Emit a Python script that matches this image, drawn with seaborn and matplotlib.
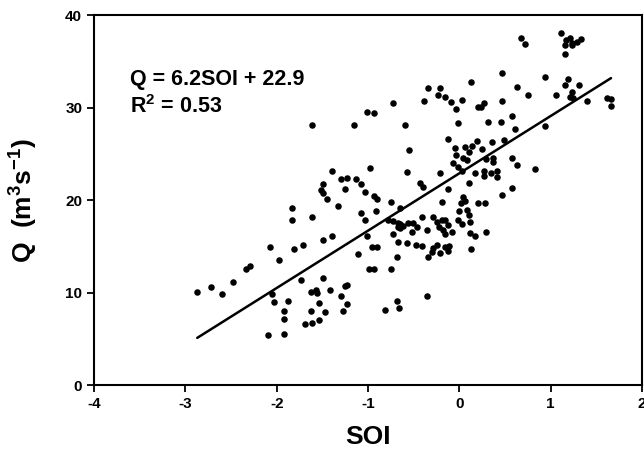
import numpy as np
import pandas as pd
import matplotlib
matplotlib.use("Agg")
import matplotlib.pyplot as plt
import seaborn as sns

# SOI vs discharge
soi = [
    -2.87, -2.72, -2.60, -2.48, -2.34, -2.29, -2.07, -1.97, -1.83, -1.83,
    -1.81, -2.05, -2.03, -1.88, -1.92, -1.92, -2.09, -1.92, -0.73, -1.01,
    -0.94, -1.61, -1.15, -1.39, -0.98, -1.30, -1.23, -1.13, -1.49, -1.51,
    -1.49, -1.45, -1.25, -1.08, -1.03, -0.94, -0.90, -1.33, -0.75, -1.61,
    -1.08, -1.03, -0.91, -0.78, -0.73, -0.67, -0.67, -1.71, -1.49, -1.39,
    -1.01, -0.96, -0.90, -1.11, -0.73, -0.67, -0.68, -0.99, -0.93, -0.75,
    -1.73, -1.49, -1.63, -1.57, -1.56, -1.42, -1.25, -1.23, -1.30, -1.54,
    -1.23, -1.63, -1.47, -1.27, -1.69, -1.61, -1.54, -0.81, -0.68, -0.66,
    0.13, -0.34, -0.21, -0.23, -0.16, -0.09, -0.39, 0.03, -0.04, 0.20,
    -0.01, -0.59, -0.13, 0.19, -0.05, 0.06, 0.14, 0.10, -0.04, 0.04,
    -0.07, -0.01, 0.03, 0.08, -0.55, -0.57, -0.21, -0.43, -0.40, 0.11,
    0.17, -0.13, -0.19, 0.04, 0.02, 0.06, 0.20, -0.65, 0.00, 0.08,
    0.10, 0.12, 0.03, -0.01, -0.41, -0.65, -0.62, -0.56, -0.51, -0.46,
    -0.52, -0.65, -0.29, -0.24, -0.19, -0.16, -0.22, -0.18, -0.13, -0.08,
    -0.16, -0.35, 0.12, 0.17, -0.57, -0.47, -0.41, -0.24, -0.29, -0.30,
    -0.16, -0.11, -0.21, -0.13, -0.34, 0.13, -0.36, 0.47, 0.94, 0.63,
    0.75, 1.06, 0.47, 0.27, 0.24, 0.58, 0.31, 0.46, 0.94, 0.61,
    0.25, 0.36, 0.49, 0.29, 0.37, 0.37, 0.58, 0.63, 0.83, 0.27,
    0.27, 0.35, 0.41, 0.41, 0.58, 0.47, 0.28, 0.29, 1.11, 1.17,
    1.21, 1.23, 1.29, 1.16, 1.23, 1.33, 1.16, 1.19, 1.16, 1.31,
    1.23, 1.21, 1.24, 1.40, 1.62, 1.66, 1.66, 0.67, 0.72,
]
q = [
    10.1, 10.6, 9.8, 11.2, 12.6, 12.9, 14.9, 13.5, 19.1, 17.8,
    14.7, 9.9, 9.0, 9.1, 8.0, 7.1, 5.4, 5.5, 30.5, 29.5,
    29.4, 28.1, 28.1, 23.1, 23.5, 22.3, 22.4, 22.3, 21.7, 21.1,
    20.8, 20.1, 21.2, 21.7, 20.9, 20.4, 20.1, 19.4, 19.8, 18.2,
    18.6, 17.9, 18.8, 17.9, 17.7, 17.5, 17.1, 15.1, 15.7, 16.1,
    16.1, 14.9, 14.9, 14.2, 16.3, 15.5, 13.8, 12.5, 12.5, 12.6,
    11.4, 11.6, 10.1, 10.3, 10.0, 10.3, 10.7, 10.8, 9.6, 8.9,
    8.8, 8.0, 7.9, 8.0, 6.6, 6.7, 7.0, 8.1, 9.1, 8.3,
    32.8, 32.1, 32.1, 31.4, 31.1, 30.6, 30.7, 30.8, 29.8, 30.1,
    28.3, 28.1, 26.6, 26.4, 25.6, 25.7, 25.9, 25.2, 24.9, 24.6,
    24.0, 23.6, 23.2, 24.3, 25.4, 23.0, 22.9, 21.9, 21.4, 21.8,
    22.9, 21.2, 19.8, 20.3, 19.7, 19.9, 19.7, 19.1, 18.8, 18.9,
    18.4, 17.6, 17.4, 17.8, 18.2, 17.4, 17.2, 17.5, 17.5, 17.1,
    16.6, 17.0, 18.2, 17.6, 17.9, 17.8, 17.1, 16.8, 17.3, 16.6,
    16.3, 16.8, 16.4, 16.1, 15.4, 15.2, 15.0, 15.2, 14.8, 14.4,
    14.9, 15.0, 14.3, 14.5, 13.9, 14.7, 9.6, 33.7, 33.3, 32.2,
    31.4, 31.4, 30.7, 30.5, 30.1, 29.1, 28.5, 28.5, 28.0, 27.7,
    25.5, 26.3, 26.5, 24.5, 24.6, 24.1, 24.6, 23.8, 23.4, 23.2,
    22.6, 22.9, 23.1, 22.5, 21.3, 20.6, 19.7, 16.5, 38.1, 37.3,
    37.5, 37.0, 37.1, 36.8, 36.8, 37.4, 35.8, 33.1, 32.4, 32.4,
    31.7, 31.1, 31.0, 30.7, 31.0, 30.9, 30.2, 37.5, 36.9,
]

slope = 6.2
intercept = 22.9
x_ticks = [-4, -3, -2, -1, 0, 1, 2]
y_ticks = [0, 10, 20, 30, 40]

df = pd.DataFrame({"SOI": soi, "Q": q})

sns.set_style("ticks")
plt.rcParams["font.family"] = ["Liberation Sans", "DejaVu Sans"]
plt.rcParams["font.weight"] = "bold"
plt.rcParams["text.color"] = "black"
plt.rcParams["axes.labelcolor"] = "black"
plt.rcParams["mathtext.fontset"] = "custom"
plt.rcParams["mathtext.rm"] = "Liberation Sans:bold"
plt.rcParams["mathtext.bf"] = "Liberation Sans:bold"
plt.rcParams["mathtext.default"] = "bf"
plt.rcParams["axes.unicode_minus"] = False

fig = plt.figure(figsize=(6.44, 4.59), dpi=100)
ax = fig.add_axes([0.146, 0.161, 0.851, 0.806])

sns.scatterplot(x="SOI", y="Q", data=df, color="black", s=22, linewidth=0, ax=ax)

line_x = np.array([min(soi), max(soi)])
sns.lineplot(x=line_x, y=slope * line_x + intercept, color="black", linewidth=1.8, ax=ax)

ax.set_xlim(-4, 2)
ax.set_ylim(0, 40)
ax.set_xticks(x_ticks)
ax.set_yticks(y_ticks)
ax.tick_params(axis="both", labelsize=11, width=1.3, length=5, direction="out",
               top=False, right=False, colors="black")
for lab in ax.get_xticklabels() + ax.get_yticklabels():
    lab.set_fontweight("bold")
for sp in ax.spines.values():
    sp.set_visible(True)
    sp.set_linewidth(1.5)
    sp.set_color("black")

ax.set_xlabel("SOI", fontsize=19, fontweight="bold", color="black", labelpad=10)
ax.set_ylabel(r"Q  (m$^{3}$s$^{-1}$)", fontsize=19, fontweight="bold", color="black", labelpad=18)

ax.text(-3.61, 32.4, "Q = 6.2SOI + 22.9", fontsize=15.5, fontweight="bold",
        color="black", va="baseline")
ax.text(-3.61, 29.4, r"R$^{2}$ = 0.53", fontsize=15.5, fontweight="bold",
        color="black", va="baseline")

fig.savefig("out.png", dpi=100)
